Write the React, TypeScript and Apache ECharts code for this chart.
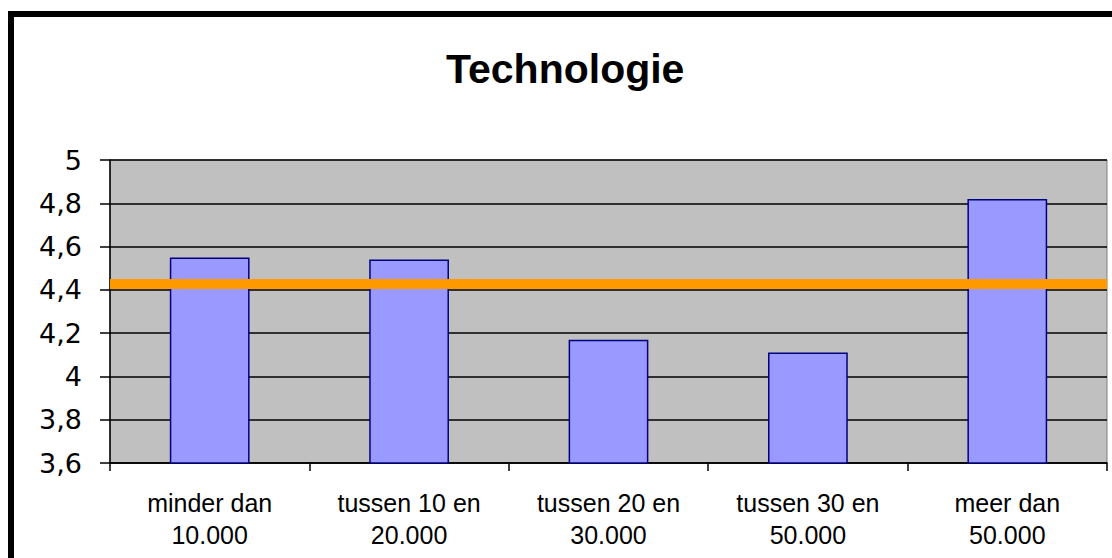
import React, { useEffect, useRef } from "react";
import * as echarts from "echarts";

const categories = [
  "minder dan\n10.000",
  "tussen 10 en\n20.000",
  "tussen 20 en\n30.000",
  "tussen 30 en\n50.000",
  "meer dan\n50.000",
];
const values = [4.55, 4.54, 4.17, 4.11, 4.82];
const averageValue = 4.43;
const yMin = 3.6;
const yMax = 5;
const yInterval = 0.2;
const titleText = "Technologie";

const FONT = "'Liberation Sans', Arial, Helvetica, sans-serif";

export default function App() {
  const ref = useRef<HTMLDivElement>(null);
  useEffect(() => {
    if (!ref.current) return;
    const chart = echarts.init(ref.current, undefined, { renderer: "svg" });
    chart.setOption({
      animation: false,
      backgroundColor: "#ffffff",
      title: {
        text: titleText,
        left: 446,
        top: 48,
        padding: 0,
        textStyle: {
          fontFamily: FONT,
          fontWeight: "bold",
          fontSize: 41,
          color: "#000000",
        },
      },
      graphic: [
        {
          type: "rect",
          shape: { x: 11, y: 14, width: 1300, height: 800 },
          style: { fill: "none", stroke: "#000000", lineWidth: 6 },
          z: 100,
        },
      ],
      grid: {
        left: 110,
        top: 160,
        right: 5,
        bottom: 95,
        show: true,
        backgroundColor: "#C0C0C0",
        borderColor: "#808080",
        borderWidth: 1,
        containLabel: false,
      },
      xAxis: {
        type: "category",
        data: categories,
        boundaryGap: true,
        axisLine: { show: true, lineStyle: { color: "#000000", width: 1.5 } },
        axisTick: {
          show: true,
          alignWithLabel: false,
          length: 8,
          lineStyle: { color: "#000000", width: 1.5 },
        },
        axisLabel: {
          margin: 24,
          interval: 0,
          fontFamily: FONT,
          fontSize: 25,
          lineHeight: 32,
          color: "#000000",
        },
        splitLine: { show: false },
      },
      yAxis: {
        type: "value",
        min: yMin,
        max: yMax,
        interval: yInterval,
        axisLine: { show: true, lineStyle: { color: "#000000", width: 1.5 } },
        axisTick: {
          show: true,
          length: 10,
          lineStyle: { color: "#000000", width: 1.5 },
        },
        axisLabel: {
          margin: 28,
          fontFamily: "'DejaVu Sans', Verdana, sans-serif",
          fontSize: 27,
          color: "#000000",
          formatter: (v: number) =>
            String(Math.round(v * 10) / 10).replace(".", ","),
        },
        splitLine: { show: true, lineStyle: { color: "#000000", width: 1.5 } },
      },
      series: [
        {
          type: "bar",
          data: values,
          barWidth: "40%",
          itemStyle: {
            color: "#9999FF",
            borderColor: "#000080",
            borderWidth: 1.5,
          },
          markLine: {
            silent: true,
            symbol: ["none", "none"],
            label: { show: false },
            lineStyle: { color: "#FF9900", width: 10, type: "solid" },
            data: [{ yAxis: averageValue }],
          },
        },
      ],
    });
    return () => chart.dispose();
  }, []);
  return (
    <div
      ref={ref}
      style={{
        position: "fixed",
        left: 0,
        top: 0,
        width: 1112,
        height: 558,
      }}
    />
  );
}
